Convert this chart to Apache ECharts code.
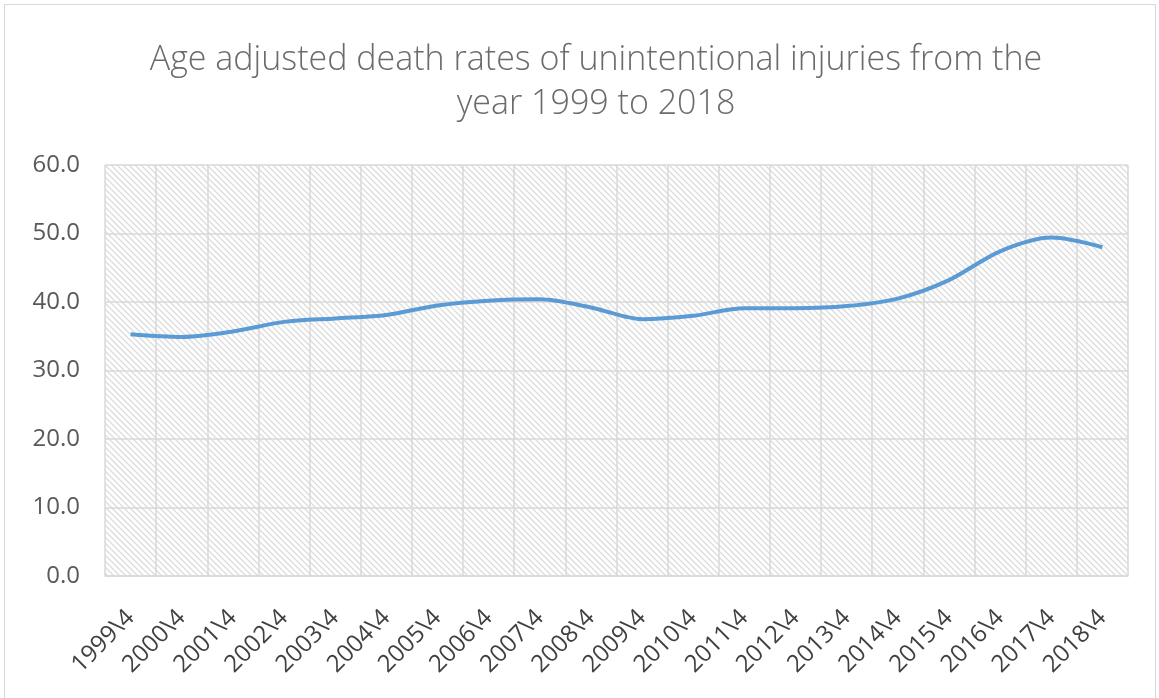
<!DOCTYPE html>
<html>
<head>
<meta charset="utf-8">
<script src="https://cdn.jsdelivr.net/npm/echarts@6/dist/echarts.min.js"></script>
<style>
  html, body { margin: 0; padding: 0; background: #fff; }
  #frame { position: absolute; left: 4px; top: 4px; width: 1152px; height: 700px; border: 1.5px solid #d9d9d9; box-sizing: border-box; }
  #main { position: absolute; left: 0; top: 0; width: 1159px; height: 698px; }
</style>
</head>
<body>
<div id="frame"></div>
<div id="main"></div>
<script>
  // years along the x axis (Excel wrote them as "1999\4")
  const years = ['1999', '2000', '2001', '2002', '2003', '2004', '2005', '2006', '2007', '2008',
    '2009', '2010', '2011', '2012', '2013', '2014', '2015', '2016', '2017', '2018']
  const categories = years.map(y => y + '\\4')
  // age adjusted death rate per 100 000
  const rates = [35.3, 34.9, 35.7, 37.1, 37.6, 38.1, 39.5, 40.2, 40.4, 39.2,
    37.5, 38.0, 39.1, 39.1, 39.4, 40.5, 43.2, 47.4, 49.4, 48.0]
  const yTicks = [0, 10, 20, 30, 40, 50, 60]

  // hatched plot background
  const tile = document.createElement('canvas')
  tile.width = 6
  tile.height = 6
  const ctx = tile.getContext('2d')
  ctx.fillStyle = '#ffffff'
  ctx.fillRect(0, 0, 6, 6)
  ctx.strokeStyle = '#dcdcdc'
  ctx.lineWidth = 1.3
  ctx.beginPath()
  ctx.moveTo(-1, -1); ctx.lineTo(7, 7)
  ctx.moveTo(-1, 5); ctx.lineTo(1, 7)
  ctx.moveTo(5, -1); ctx.lineTo(7, 1)
  ctx.stroke()

  const chart = echarts.init(document.getElementById('main'))
  chart.setOption({
    animation: false,
    title: {
      text: 'Age adjusted death rates of unintentional injuries from the\nyear 1999 to 2018',
      left: 591,
      top: 33,
      textAlign: 'center',
      textStyle: {
        fontFamily: 'Open Sans',
        fontWeight: 300,
        fontSize: 34,
        lineHeight: 44,
        color: '#6b6b6b'
      }
    },
    grid: {
      left: 105,
      right: 31,
      top: 165,
      bottom: 122,
      show: true,
      borderWidth: 0,
      backgroundColor: { image: tile, repeat: 'repeat' }
    },
    xAxis: {
      type: 'category',
      data: categories,
      boundaryGap: true,
      axisLine: { lineStyle: { color: '#d9d9d9', width: 1.5 } },
      axisTick: { show: false },
      splitLine: { show: true, lineStyle: { color: '#d9d9d9', width: 1.5 } },
      axisLabel: {
        rotate: 45,
        interval: 0,
        margin: 38,
        fontFamily: 'Open Sans',
        fontSize: 24,
        color: '#404040'
      }
    },
    yAxis: {
      type: 'value',
      min: yTicks[0],
      max: yTicks[yTicks.length - 1],
      interval: 10,
      axisLine: { show: false },
      axisTick: { show: false },
      splitLine: { lineStyle: { color: '#d9d9d9', width: 1.5 } },
      axisLabel: {
        margin: 25,
        fontFamily: 'Open Sans',
        fontSize: 24,
        color: '#595959',
        formatter: v => v.toFixed(1)
      }
    },
    series: [
      {
        type: 'line',
        data: rates,
        smooth: 0.3,
        showSymbol: false,
        lineStyle: { color: '#5b9bd5', width: 4 }
      }
    ]
  })
</script>
</body>
</html>
